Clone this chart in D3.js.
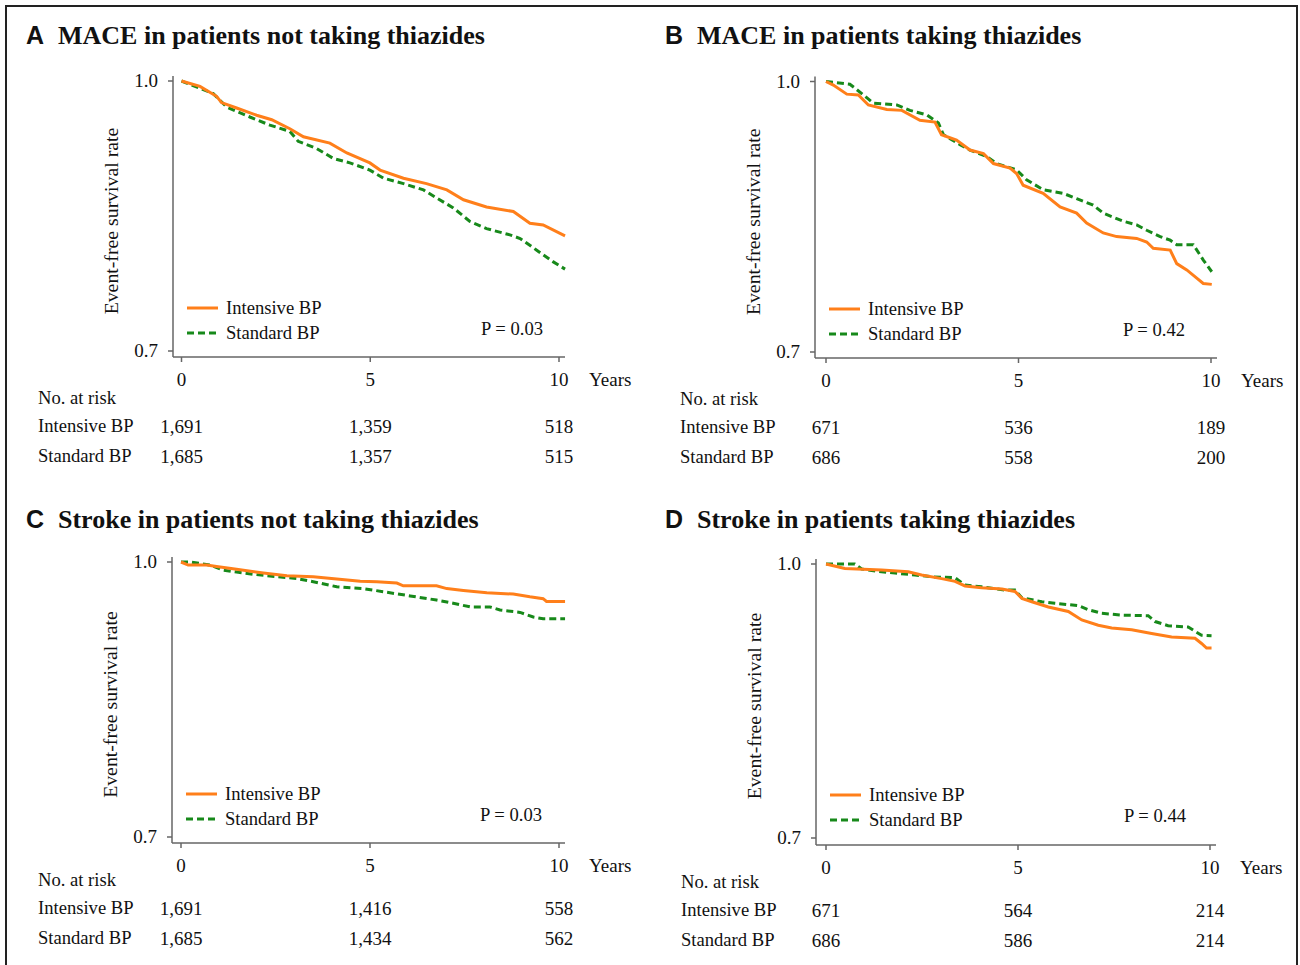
<!DOCTYPE html>
<html>
<head>
<meta charset="utf-8">
<script src="https://cdn.jsdelivr.net/npm/d3@7"></script>
<style>
  body { margin: 0; background: #fff; }
  svg { display: block; }
  text { font-family: 'Liberation Serif', 'Times New Roman', serif; fill: #111; }
</style>
</head>
<body>
<svg width="1300" height="965"></svg>
<script>
// time (years), event-free survival
const maceNoThzIntensive = [[0,1],[0.49,0.994],[0.93,0.983],[1.06,0.976],[1.46,0.970],[1.99,0.962],[2.39,0.957],[2.87,0.947],[3.23,0.938],[3.93,0.931],[4.38,0.920],[4.99,0.909],[5.26,0.901],[5.88,0.892],[6.49,0.886],[7.03,0.879],[7.47,0.868],[8.08,0.860],[8.79,0.855],[9.23,0.842],[9.58,0.840],[10.16,0.828]];
const maceNoThzStandard = [[0,1],[0.84,0.986],[1.2,0.971],[1.81,0.960],[2.34,0.951],[2.87,0.944],[3.09,0.933],[3.58,0.925],[4.02,0.914],[4.46,0.909],[4.99,0.901],[5.35,0.892],[5.88,0.886],[6.41,0.879],[6.76,0.870],[7.2,0.859],[7.64,0.844],[8.08,0.836],[8.7,0.829],[8.97,0.825],[9.41,0.812],[9.85,0.799],[10.16,0.791]];

const maceThzIntensive = [[0,1],[0.19,0.996],[0.54,0.986],[0.84,0.985],[1.1,0.974],[1.58,0.969],[1.97,0.968],[2.44,0.957],[2.83,0.955],[3.0,0.941],[3.39,0.935],[3.74,0.924],[4.09,0.920],[4.35,0.909],[4.78,0.904],[4.95,0.898],[5.12,0.885],[5.64,0.876],[6.08,0.861],[6.51,0.854],[6.77,0.843],[7.2,0.832],[7.55,0.828],[8.07,0.826],[8.33,0.822],[8.5,0.815],[8.94,0.813],[9.11,0.798],[9.37,0.791],[9.63,0.782],[9.8,0.776],[10.02,0.775]];
const maceThzStandard = [[0,1],[0.62,0.997],[0.8,0.991],[1.23,0.976],[1.84,0.974],[2.18,0.968],[2.62,0.963],[2.92,0.954],[3.05,0.941],[3.48,0.930],[3.74,0.924],[4.17,0.917],[4.43,0.909],[4.95,0.902],[5.21,0.891],[5.64,0.880],[6.16,0.876],[6.51,0.870],[6.94,0.863],[7.2,0.854],[7.72,0.845],[8.07,0.841],[8.33,0.835],[8.68,0.828],[8.94,0.824],[9.11,0.819],[9.54,0.819],[9.8,0.802],[10.02,0.789]];

const strokeNoThzIntensive = [[0,1],[0.19,0.9967],[0.68,0.9967],[0.94,0.995],[1.47,0.992],[2.18,0.988],[2.8,0.985],[3.5,0.984],[4.12,0.9815],[4.74,0.979],[5.18,0.9785],[5.71,0.977],[5.88,0.974],[6.76,0.974],[7.03,0.971],[7.47,0.969],[8.09,0.9665],[8.79,0.965],[9.23,0.962],[9.58,0.960],[9.67,0.957],[10.16,0.957]];
const strokeNoThzStandard = [[0,1],[0.24,1],[0.77,0.9967],[1.12,0.991],[1.47,0.989],[1.91,0.9866],[2.35,0.9847],[3.06,0.982],[3.5,0.9785],[4.12,0.973],[4.82,0.971],[5.44,0.967],[6.06,0.963],[6.76,0.9585],[7.2,0.955],[7.65,0.951],[8.17,0.951],[8.44,0.9476],[8.97,0.945],[9.32,0.940],[9.58,0.938],[10.16,0.938]];

const strokeThzIntensive = [[0,1],[0.49,0.995],[1.45,0.9934],[2.14,0.9916],[2.49,0.988],[3.01,0.984],[3.36,0.981],[3.62,0.976],[4.05,0.974],[4.58,0.9726],[4.92,0.970],[5.1,0.9624],[5.36,0.9587],[5.79,0.953],[6.31,0.948],[6.66,0.9387],[7.09,0.933],[7.44,0.930],[7.96,0.928],[8.48,0.924],[9.0,0.920],[9.61,0.9186],[9.78,0.913],[9.91,0.908],[10.04,0.908]];
const strokeThzStandard = [[0,1],[0.75,1],[0.93,0.9945],[1.36,0.992],[1.8,0.990],[2.32,0.988],[2.75,0.986],[3.36,0.985],[3.62,0.977],[4.05,0.975],[4.66,0.9715],[4.92,0.9715],[5.1,0.963],[5.62,0.9587],[5.96,0.957],[6.57,0.9544],[6.83,0.950],[7.18,0.946],[7.7,0.944],[8.39,0.9434],[8.57,0.937],[8.91,0.9325],[9.43,0.931],[9.78,0.922],[10.04,0.9215]];

// numbers at risk at 0, 5, 10 years
const riskYears = [0, 5, 10];
const riskMaceNoThz = { intensive: [1691, 1359, 518], standard: [1685, 1357, 515] };
const riskMaceThz = { intensive: [671, 536, 189], standard: [686, 558, 200] };
const riskStrokeNoThz = { intensive: [1691, 1416, 558], standard: [1685, 1434, 562] };
const riskStrokeThz = { intensive: [671, 564, 214], standard: [686, 586, 214] };

const panelLetters = ['A', 'B', 'C', 'D'];
const panelTitles = [
  'MACE in patients not taking thiazides',
  'MACE in patients taking thiazides',
  'Stroke in patients not taking thiazides',
  'Stroke in patients taking thiazides'
];
const pValues = ['P = 0.03', 'P = 0.42', 'P = 0.03', 'P = 0.44'];
const xTicks = [0, 5, 10];
const yTicks = [0.7, 1.0];
const seriesNames = ['Intensive BP', 'Standard BP'];

const ORANGE = '#ff7f1a';
const GREEN = '#17891a';
const AXIS = '#666';
const FS = '18.6px';

// where each panel sits on the page
const panels = [
  { letter: panelLetters[0], title: panelTitles[0], p: pValues[0], intensive: maceNoThzIntensive, standard: maceNoThzStandard, risk: riskMaceNoThz,
    left: 0, tableX: 38, x0: 181.5, x1: 559, y0: 351, y1: 81, axisX: 173, axisY: 357, titleY: 35, riskY: 398 },
  { letter: panelLetters[1], title: panelTitles[1], p: pValues[1], intensive: maceThzIntensive, standard: maceThzStandard, risk: riskMaceThz,
    left: 639, tableX: 680, x0: 826, x1: 1211, y0: 352, y1: 81.5, axisX: 815, axisY: 358, titleY: 35, riskY: 399 },
  { letter: panelLetters[2], title: panelTitles[2], p: pValues[2], intensive: strokeNoThzIntensive, standard: strokeNoThzStandard, risk: riskStrokeNoThz,
    left: 0, tableX: 38, x0: 181, x1: 559, y0: 837, y1: 562, axisX: 172, axisY: 843, titleY: 519, riskY: 880 },
  { letter: panelLetters[3], title: panelTitles[3], p: pValues[3], intensive: strokeThzIntensive, standard: strokeThzStandard, risk: riskStrokeThz,
    left: 639, tableX: 681, x0: 826, x1: 1210, y0: 838, y1: 564, axisX: 816, axisY: 845, titleY: 519, riskY: 882 }
];

const svg = d3.select('svg');

// outer frame (open at the bottom)
svg.append('path')
  .attr('d', 'M6,965 V6 H1297 V965')
  .attr('fill', 'none')
  .attr('stroke', '#222')
  .attr('stroke-width', 2);

panels.forEach(p => {
  const g = svg.append('g');
  const x = d3.scaleLinear().domain([0, 10]).range([p.x0, p.x1]);
  const y = d3.scaleLinear().domain([0.7, 1.0]).range([p.y0, p.y1]);
  const lx = p.left;

  // panel heading
  g.append('text')
    .attr('x', lx + 26).attr('y', p.titleY + 9)
    .style('font-family', "'Liberation Sans', Arial, sans-serif")
    .style('font-weight', 'bold').style('font-size', '25px')
    .text(p.letter);
  g.append('text')
    .attr('x', lx + 58).attr('y', p.titleY + 9)
    .style('font-weight', 'bold').style('font-size', '26px')
    .text(p.title);

  // axes
  g.append('line')
    .attr('x1', p.axisX).attr('x2', p.axisX)
    .attr('y1', p.y1 - 5).attr('y2', p.axisY)
    .attr('stroke', AXIS).attr('stroke-width', 1.5);
  g.append('line')
    .attr('x1', p.axisX).attr('x2', x(10) + 6)
    .attr('y1', p.axisY).attr('y2', p.axisY)
    .attr('stroke', AXIS).attr('stroke-width', 1.5);

  g.selectAll('line.ytick').data(yTicks).enter().append('line')
    .attr('class', 'ytick')
    .attr('x1', p.axisX - 5).attr('x2', p.axisX)
    .attr('y1', d => y(d)).attr('y2', d => y(d))
    .attr('stroke', AXIS).attr('stroke-width', 1.5);
  g.selectAll('text.ytick').data(yTicks).enter().append('text')
    .attr('class', 'ytick')
    .attr('x', p.axisX - 15).attr('y', d => y(d) + 6)
    .attr('text-anchor', 'end')
    .style('font-size', '19px')
    .text(d3.format('.1f'));

  g.selectAll('line.xtick').data(xTicks).enter().append('line')
    .attr('class', 'xtick')
    .attr('x1', d => x(d)).attr('x2', d => x(d))
    .attr('y1', p.axisY).attr('y2', p.axisY + 5)
    .attr('stroke', AXIS).attr('stroke-width', 1.5);
  g.selectAll('text.xtick').data(xTicks).enter().append('text')
    .attr('class', 'xtick')
    .attr('x', d => x(d)).attr('y', p.axisY + 29)
    .attr('text-anchor', 'middle')
    .style('font-size', '19px')
    .text(d => d);
  g.append('text')
    .attr('x', x(10) + 30).attr('y', p.axisY + 29)
    .style('font-size', '19px')
    .text('Years');

  g.append('text')
    .attr('transform', 'translate(' + (p.axisX - 55) + ',' + ((p.y0 + p.y1) / 2 + 5) + ') rotate(-90)')
    .attr('text-anchor', 'middle')
    .style('font-size', '19.8px')
    .text('Event-free survival rate');

  // survival curves
  const line = d3.line()
    .x(d => x(d[0]))
    .y(d => y(d[1]))
    .curve(d3.curveLinear);

  g.append('path')
    .datum(p.standard)
    .attr('d', line)
    .attr('fill', 'none')
    .attr('stroke', GREEN)
    .attr('stroke-width', 3)
    .attr('stroke-dasharray', '7,4');
  g.append('path')
    .datum(p.intensive)
    .attr('d', line)
    .attr('fill', 'none')
    .attr('stroke', ORANGE)
    .attr('stroke-width', 3);

  // legend
  const legX = p.axisX + 14;
  const legY = p.y0 - 43;
  [ORANGE, GREEN].forEach((c, i) => {
    g.append('line')
      .attr('x1', legX).attr('x2', legX + 31)
      .attr('y1', legY + i * 25).attr('y2', legY + i * 25)
      .attr('stroke', c).attr('stroke-width', 3)
      .attr('stroke-dasharray', i ? '7,4' : null);
    g.append('text')
      .attr('x', legX + 39).attr('y', legY + i * 25 + 6)
      .style('font-size', FS)
      .text(seriesNames[i]);
  });
  g.append('text')
    .attr('x', p.axisX + 370).attr('y', p.y0 - 16)
    .attr('text-anchor', 'end')
    .style('font-size', FS)
    .text(p.p);

  // numbers at risk
  const tx = p.tableX;
  g.append('text')
    .attr('x', tx).attr('y', p.riskY + 6)
    .style('font-size', FS)
    .text('No. at risk');
  [['intensive', seriesNames[0]], ['standard', seriesNames[1]]].forEach(([key, name], i) => {
    const ry = p.riskY + 28 + i * 30;
    g.append('text')
      .attr('x', tx).attr('y', ry + 6)
      .style('font-size', FS)
      .text(name);
    g.selectAll('text.risk' + key).data(p.risk[key]).enter().append('text')
      .attr('class', 'risk' + key)
      .attr('x', (d, j) => x(riskYears[j]))
      .attr('y', ry + 7)
      .attr('text-anchor', 'middle')
      .style('font-size', '19px')
      .text(d3.format(','));
  });
});
</script>
</body>
</html>
